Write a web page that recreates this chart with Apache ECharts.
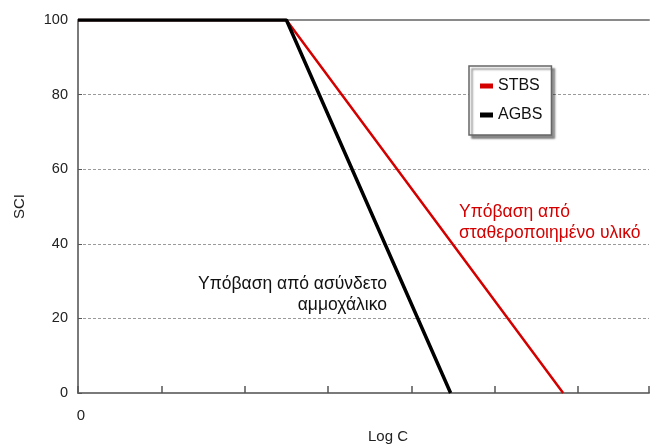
<!DOCTYPE html>
<html>
<head>
<meta charset="utf-8">
<script src="https://cdn.jsdelivr.net/npm/echarts@6/dist/echarts.min.js"></script>
<style>
  html, body { margin: 0; padding: 0; background: #fff; }
  #chart { width: 652px; height: 446px; }
</style>
</head>
<body>
<div id="chart"></div>
<script>
// Log C positions (tick units) and SCI values
var stbsLogC = [0, 2.5, 5.82];
var stbsSci = [100, 100, 0];
var agbsLogC = [0, 2.5, 4.47];
var agbsSci = [100, 100, 0];
var seriesNames = ['STBS', 'AGBS'];
var yTicks = [0, 20, 40, 60, 80, 100];

function pairs(xs, ys) {
    return xs.map(function (x, i) { return [x, ys[i]]; });
}

var chart = echarts.init(document.getElementById('chart'));

var font = 'Liberation Sans, Arial, sans-serif';

var option = {
    animation: false,
    textStyle: { fontFamily: font },
    grid: { left: 78, right: 0, top: 20, bottom: 53 },
    legend: {
        orient: 'vertical',
        left: 469,
        top: 66,
        data: seriesNames,
        padding: [12, 9, 12, 11],
        itemGap: 13,
        itemWidth: 13,
        itemHeight: 5,
        icon: 'rect',
        backgroundColor: '#fff',
        borderColor: '#666',
        borderWidth: 1.5,
        shadowColor: 'rgba(0,0,0,0.45)',
        shadowBlur: 2,
        shadowOffsetX: 3,
        shadowOffsetY: 3,
        textStyle: { fontSize: 16, color: '#111', fontFamily: font }
    },
    xAxis: [{
        type: 'value',
        min: 0,
        max: 6.85,
        interval: 1,
        axisLine: { lineStyle: { color: '#7a7a7a', width: 2 } },
        axisTick: { inside: true, length: 7, lineStyle: { color: '#555', width: 1.5 } },
        axisLabel: {
            margin: 15,
            fontSize: 15,
            color: '#222',
            padding: [0, 0, 0, 6],
            formatter: function (v) { return v === 0 ? '0' : ''; }
        },
        splitLine: { show: false }
    }, {
        type: 'value',
        position: 'top',
        min: 0,
        max: 6.85,
        axisLine: { show: true, lineStyle: { color: '#8a8a8a', width: 2 } },
        axisTick: { show: false },
        axisLabel: { show: false },
        splitLine: { show: false }
    }],
    yAxis: {
        type: 'value',
        min: yTicks[0],
        max: yTicks[yTicks.length - 1],
        interval: 20,
        name: 'SCI',
        nameLocation: 'middle',
        nameGap: 51,
        nameTextStyle: { fontSize: 15, color: '#222' },
        axisLine: { show: true, lineStyle: { color: '#7a7a7a', width: 2 } },
        axisTick: { show: true, inside: true, length: 4, lineStyle: { color: '#555' } },
        axisLabel: { margin: 10, fontSize: 14.5, color: '#222' },
        splitLine: {
            lineStyle: { color: '#9a9a9a', width: 1, type: [3, 2] }
        }
    },
    series: [{
        name: 'STBS',
        type: 'line',
        data: pairs(stbsLogC, stbsSci),
        showSymbol: false,
        symbol: 'none',
        color: '#d40000',
        lineStyle: { color: '#d40000', width: 2.5 },
        z: 2
    }, {
        name: 'AGBS',
        type: 'line',
        data: pairs(agbsLogC, agbsSci),
        showSymbol: false,
        symbol: 'none',
        color: '#000',
        lineStyle: { color: '#000', width: 3.5 },
        z: 3
    }],
    graphic: [{
        type: 'text',
        x: 387,
        y: 274,
        style: {
            text: 'Υπόβαση από ασύνδετο\nαμμοχάλικο',
            align: 'right',
            textAlign: 'right',
            fill: '#111',
            font: '17.5px ' + font,
            lineHeight: 21
        }
    }, {
        type: 'text',
        x: 459,
        y: 202,
        style: {
            text: 'Υπόβαση από\nσταθεροποιημένο υλικό',
            align: 'left',
            textAlign: 'left',
            fill: '#d40000',
            font: '17.5px ' + font,
            lineHeight: 21
        }
    }, {
        type: 'text',
        x: 388,
        y: 429,
        style: {
            text: 'Log C',
            align: 'center',
            textAlign: 'center',
            fill: '#222',
            font: '15px ' + font
        }
    }]
};

chart.setOption(option);
</script>
</body>
</html>
